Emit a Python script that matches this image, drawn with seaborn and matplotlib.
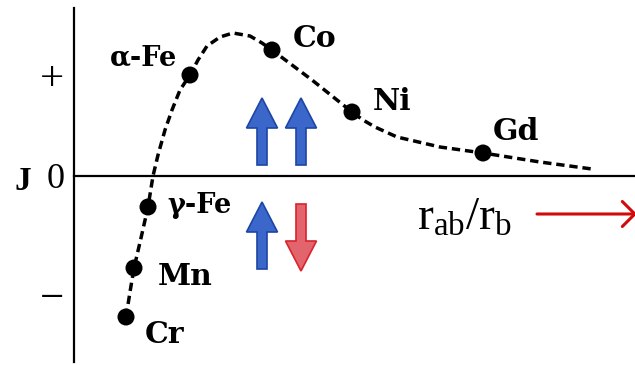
import matplotlib
matplotlib.use("Agg")
import matplotlib.pyplot as plt
import seaborn as sns
import pandas as pd

# Bethe-Slater curve: exchange integral J versus r_ab / r_b (arbitrary units)
elements = ["Cr", "Mn", "γ-Fe", "α-Fe", "Co", "Ni", "Gd"]
ratio = [0.52, 0.60, 0.74, 1.16, 1.98, 2.78, 4.09]
exchange = [-1.41, -0.92, -0.31, 1.01, 1.26, 0.64, 0.23]

# traced shape of the dashed curve
curve_ratio = [0.52, 0.56, 0.60, 0.67, 0.74, 0.79, 0.84, 0.91, 0.98, 1.06,
               1.16, 1.24, 1.33, 1.46, 1.59, 1.76, 1.88, 1.98, 2.18, 2.38,
               2.58, 2.78, 2.89, 3.01, 3.23, 3.66, 4.09, 4.66, 5.18]
curve_exchange = [-1.41, -1.16, -0.92, -0.62, -0.31, 0.00, 0.21, 0.46, 0.66, 0.86,
                  1.01, 1.16, 1.30, 1.39, 1.43, 1.40, 1.33, 1.26, 1.11, 0.96,
                  0.80, 0.64, 0.56, 0.49, 0.39, 0.29, 0.23, 0.14, 0.07]

ytick_values = [1.01, 0.0, -1.19]
ytick_labels = ["+", "0", "\u2212"]

sns.set_theme(style="white")
plt.rcParams["font.family"] = ["Liberation Serif", "DejaVu Serif"]
plt.rcParams["text.color"] = "black"
plt.rcParams["ytick.color"] = "black"
plt.rcParams["ytick.labelcolor"] = "black"

fig = plt.figure(figsize=(6.35, 3.65), dpi=100)
ax = fig.add_axes([74 / 635, 3 / 365, 561 / 635, 354 / 365])
ax.set_xlim(0, 5.61)
ax.set_ylim(-1.86, 1.68)

curve = pd.DataFrame({"ratio": curve_ratio, "J": curve_exchange})
points = pd.DataFrame({"ratio": ratio, "J": exchange, "element": elements})

sns.lineplot(data=curve, x="ratio", y="J", ax=ax, color="black", lw=2.5,
             linestyle=(0, (2.4, 1.4)), sort=False, zorder=3)
sns.scatterplot(data=points, x="ratio", y="J", ax=ax, color="black", s=150,
                edgecolor="none", zorder=4)

# element labels, offset in pixels from their points
offsets = {"Cr": (19, -26, "left"), "Mn": (24, -17, "left"),
           "γ-Fe": (19, -6, "left"), "α-Fe": (-13, 10, "right"),
           "Co": (21, 3, "left"), "Ni": (21, 2, "left"), "Gd": (10, 13, "left")}
for name, xv, yv in zip(elements, ratio, exchange):
    dx, dy, ha = offsets[name]
    fe = "Fe" in name
    ax.annotate(name, (xv, yv), xytext=(dx, dy), textcoords="offset pixels",
                ha=ha, va="baseline", fontweight="bold",
                fontsize=19.5 if fe else 21.5,
                family=["DejaVu Serif"], color="black")

# spin alignment arrows
blue_face, blue_edge = "#3b67cb", "#1c45a5"
red_face, red_edge = "#e2646c", "#d9232d"
arrow_kw = dict(width=0.10, head_width=0.31, head_length=0.30,
                length_includes_head=True, lw=1.2, zorder=5)
ax.arrow(1.88, 0.11, 0, 0.67, fc=blue_face, ec=blue_edge, **arrow_kw)
ax.arrow(2.27, 0.11, 0, 0.67, fc=blue_face, ec=blue_edge, **arrow_kw)
ax.arrow(1.88, -0.93, 0, 0.67, fc=blue_face, ec=blue_edge, **arrow_kw)
ax.arrow(2.27, -0.28, 0, -0.67, fc=red_face, ec=red_edge, **arrow_kw)

# x-axis caption with direction arrow
ax.text(3.43, -0.54, r"$\mathregular{r_{ab}/r_{b}}$", fontsize=34,
        ha="left", va="baseline", family=["Liberation Serif"], color="black")
ax.annotate("", xy=(5.63, -0.38), xytext=(4.63, -0.38),
            arrowprops=dict(arrowstyle="->,head_length=0.45,head_width=0.45",
                            color="#d10a0a", lw=2.2, mutation_scale=20,
                            shrinkA=0, shrinkB=0),
            annotation_clip=False)

# axes: vertical J axis on the left, horizontal axis through J = 0
for side in ("top", "right"):
    ax.spines[side].set_visible(False)
ax.spines["left"].set_linewidth(1.6)
ax.spines["left"].set_color("black")
ax.spines["bottom"].set_position(("data", 0))
ax.spines["bottom"].set_linewidth(1.6)
ax.spines["bottom"].set_color("black")
ax.set_xticks([])
ax.set_yticks(ytick_values)
ax.set_yticklabels(ytick_labels, fontsize=26, family=["Liberation Serif"],
                   color="black")
for lab in ax.get_yticklabels():
    if lab.get_text() != "0":
        lab.set_fontsize(31)
ax.tick_params(axis="y", length=0, pad=7, labelcolor="black")
ax.set_xlabel("")
ax.set_ylabel("")
fig.text(23 / 635, 1 - 190 / 365, "J", ha="center", va="baseline",
         fontsize=24, fontweight="bold", family=["Liberation Serif"],
         color="black")

fig.savefig("out.png", dpi=100)
